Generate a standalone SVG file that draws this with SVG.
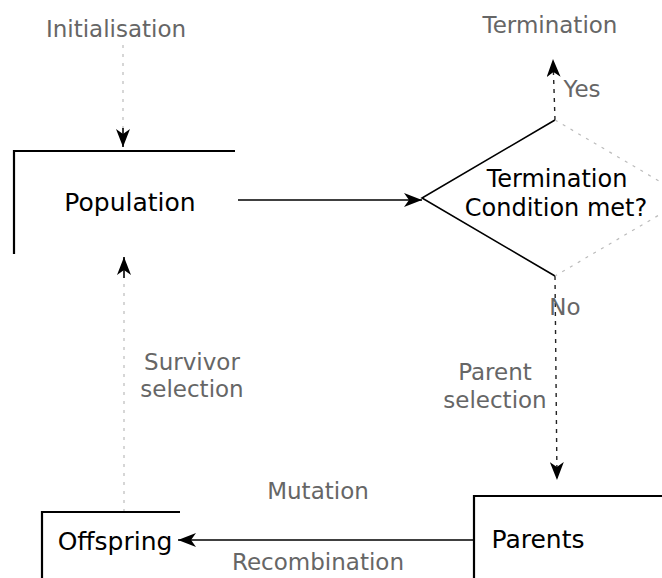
<svg xmlns="http://www.w3.org/2000/svg" width="662" height="578" viewBox="0 0 662 578">
<style>
.bg{fill:#fff}
.node{font-family:"DejaVu Sans",Verdana,sans-serif;font-size:25px;fill:#000;text-anchor:middle}
.cond{font-size:24px}
.lbl{font-family:"DejaVu Sans",Verdana,sans-serif;font-size:23px;fill:#666;text-anchor:middle}
.edge{fill:none;stroke:#000;stroke-width:1.6}
.faint{fill:none;stroke:#bbb;stroke-width:1.2;stroke-dasharray:3 6}
.dot{fill:none;stroke:#222;stroke-width:1.4;stroke-dasharray:4 5}
.box{fill:none;stroke:#000;stroke-width:2.2}
</style>
<defs>
<marker id="ah" viewBox="0 0 18 14" refX="18" refY="7" markerWidth="18" markerHeight="14" markerUnits="userSpaceOnUse" orient="auto">
<path d="M0,0 L18,7 L0,14 L5,7 Z" fill="#000"/>
</marker>
</defs>
<rect class="bg" width="662" height="578"/>

<g id="connectors">
<line class="faint" x1="123" y1="45" x2="123" y2="130"/>
<path class="edge" d="M123,128 L123,147" marker-end="url(#ah)"/>
<line class="edge" x1="238" y1="200" x2="422" y2="200" marker-end="url(#ah)"/>
<line class="dot" x1="555" y1="120" x2="553" y2="59" marker-end="url(#ah)"/>
<line class="dot" x1="555" y1="276" x2="557" y2="480" marker-end="url(#ah)"/>
<line class="edge" x1="474" y1="540" x2="178" y2="540" marker-end="url(#ah)"/>
<line class="faint" x1="124" y1="512" x2="124" y2="280"/>
<path class="edge" d="M124,278 L124,257" marker-end="url(#ah)"/>
<text class="lbl" x="582" y="97">Yes</text>
<text class="lbl" x="565" y="315">No</text>
<text class="lbl" x="192" y="370">Survivor</text>
<text class="lbl" x="192" y="397">selection</text>
<text class="lbl" x="495" y="380">Parent</text>
<text class="lbl" x="495" y="408">selection</text>
<text class="lbl" x="318" y="499">Mutation</text>
<text class="lbl" x="318" y="570">Recombination</text>
</g>

<g id="initialisation">
<text class="lbl" x="116" y="37">Initialisation</text>
</g>

<g id="termination">
<text class="lbl" x="550" y="33">Termination</text>
</g>

<g id="population">
<path class="box" d="M14,254 V151 H235"/>
<text class="node" x="130" y="211">Population</text>
</g>

<g id="condition">
<path class="edge" d="M555,276 L422,198 L555,120"/>
<path class="faint" d="M555,120 L688,198 L555,276"/>
<text class="node cond" x="557" y="187">Termination</text>
<text class="node cond" x="556" y="216">Condition met?</text>
</g>

<g id="parents">
<path class="box" d="M474,578 V496 H662"/>
<text class="node" x="538" y="548">Parents</text>
</g>

<g id="offspring">
<path class="box" d="M42,578 V512 H180"/>
<text class="node" x="115" y="550">Offspring</text>
</g>
</svg>
